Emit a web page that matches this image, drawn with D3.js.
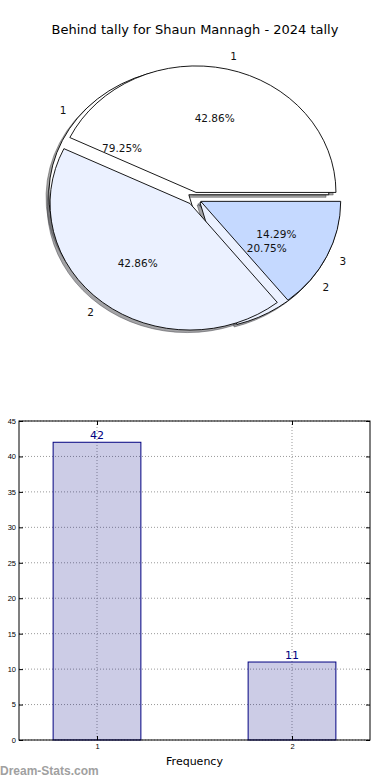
<!DOCTYPE html>
<html>
<head>
<meta charset="utf-8">
<script src="https://cdn.jsdelivr.net/npm/d3@7"></script>
<style>
  body { margin: 0; background: #fff; }
  svg { display: block; font-family: "DejaVu Sans", sans-serif; }
</style>
</head>
<body>
<div id="chart"></div>
<script>
// values
const title = "Behind tally for Shaun Mannagh - 2024 tally";
const innerLabels = ["1", "2"];
const innerValues = [79.25, 20.75];
const outerLabels = ["1", "2", "3"];
const outerValues = [42.86, 42.86, 14.29];
const sliceColors = ["#ffffff", "#ebf1ff", "#c5d9ff"];

const barCats = [1, 2];
const barValues = [42, 11];
const yTicks = [0, 5, 10, 15, 20, 25, 30, 35, 40, 45];

const W = 390, H = 780;
const svg = d3.select("#chart").append("svg")
    .attr("width", W).attr("height", H);

svg.append("text")
    .attr("x", 195).attr("y", 34)
    .attr("text-anchor", "middle")
    .style("font-size", "13px")
    .text(title);

// ---- pie (elliptical, matplotlib style) ----
const cx = 194.4, cy = 198.6, rx = 140, ry = 126.5;
const R = 100;
const explode = 0.05;

const pie = d3.pie().sort(null)
    .startAngle(Math.PI / 2)
    .endAngle(Math.PI / 2 - 2 * Math.PI);
const arc = d3.arc().innerRadius(0).outerRadius(R);

function layout(values, labels) {
  const total = d3.sum(values);
  return pie(values).map((d, i) => {
    const m = (d.startAngle + d.endAngle) / 2;
    const ux = Math.sin(m), uy = -Math.cos(m);
    return {
      arc: d, i: i, label: labels[i],
      pct: (d.value / total * 100).toFixed(2) + "%",
      ux: ux, uy: uy,
      ox: cx + explode * rx * ux,
      oy: cy + explode * ry * uy
    };
  });
}

const inner = layout(innerValues, innerLabels);
const outer = layout(outerValues, outerLabels);

const pieG = svg.append("g");

function shade(c) {
  const k = d3.rgb(c);
  return d3.rgb(k.r * 0.3, k.g * 0.3, k.b * 0.3);
}

// shadows of both pies go under every wedge
[inner, outer].forEach(set => {
  pieG.append("g").selectAll("path")
    .data(set)
    .join("path")
      .attr("d", d => arc(d.arc))
      .attr("transform", d => `translate(${d.ox - 0.02 * rx},${d.oy + 0.02 * ry}) scale(${rx / R},${ry / R})`)
      .attr("fill", d => shade(sliceColors[d.i]))
      .attr("fill-opacity", 0.5)
      .attr("stroke", d => shade(sliceColors[d.i]))
      .attr("stroke-opacity", 0.5)
      .attr("stroke-width", 1)
      .attr("vector-effect", "non-scaling-stroke");
});

[inner, outer].forEach(set => {
  pieG.append("g").selectAll("path")
    .data(set)
    .join("path")
      .attr("d", d => arc(d.arc))
      .attr("transform", d => `translate(${d.ox},${d.oy}) scale(${rx / R},${ry / R})`)
      .attr("fill", d => sliceColors[d.i])
      .attr("stroke", "#000")
      .attr("stroke-width", 0.9)
      .attr("vector-effect", "non-scaling-stroke");
});

[inner, outer].forEach(set => {
  const t = pieG.append("g").style("font-size", "10.5px").attr("fill", "#111");
  t.selectAll("text.lab")
    .data(set)
    .join("text")
      .attr("class", "lab")
      .attr("x", d => d.ox + 1.1 * rx * d.ux)
      .attr("y", d => d.oy + 1.1 * ry * d.uy)
      .attr("dy", "0.35em")
      .attr("text-anchor", d => d.ux > 0 ? "start" : "end")
      .text(d => d.label);
  t.selectAll("text.pct")
    .data(set)
    .join("text")
      .attr("class", "pct")
      .attr("x", d => d.ox + 0.6 * rx * d.ux)
      .attr("y", d => d.oy + 0.6 * ry * d.uy)
      .attr("dy", "0.35em")
      .attr("text-anchor", "middle")
      .text(d => d.pct);
});

// ---- bar chart ----
const plotL = 19, plotR = 370, plotT = 421, plotB = 740;
const x = d3.scaleLinear().domain([0.6, 2.4]).range([plotL, plotR]);
const y = d3.scaleLinear().domain([0, 45]).range([plotB, plotT]);
const barW = 0.45;

const grid = svg.append("g")
    .attr("stroke", "#999")
    .attr("stroke-width", 1)
    .attr("stroke-dasharray", "1,2");
grid.selectAll("line.h")
  .data(yTicks)
  .join("line")
    .attr("class", "h")
    .attr("x1", plotL).attr("x2", plotR)
    .attr("y1", d => y(d)).attr("y2", d => y(d));
grid.selectAll("line.v")
  .data(barCats)
  .join("line")
    .attr("class", "v")
    .attr("x1", d => x(d)).attr("x2", d => x(d))
    .attr("y1", plotT).attr("y2", plotB);

svg.append("g").selectAll("rect")
  .data(barValues)
  .join("rect")
    .attr("x", (d, i) => x(barCats[i] - barW / 2))
    .attr("y", d => y(d))
    .attr("width", (d, i) => x(barCats[i] + barW / 2) - x(barCats[i] - barW / 2))
    .attr("height", d => y(0) - y(d))
    .attr("fill", "#000080")
    .attr("fill-opacity", 0.2)
    .attr("stroke", "#000080")
    .attr("stroke-width", 1);

svg.append("g").selectAll("text")
  .data(barValues)
  .join("text")
    .attr("x", (d, i) => x(barCats[i]))
    .attr("y", d => y(d) - 3)
    .attr("text-anchor", "middle")
    .attr("fill", "#000080")
    .style("font-size", "11px")
    .text(d => d);

function styleAxis(g) {
  g.select(".domain").remove();
  g.selectAll(".tick line").attr("stroke", "#000");
  g.selectAll(".tick text").style("font-size", "7.5px").attr("fill", "#000");
}

svg.append("g")
    .attr("transform", `translate(${plotL},0)`)
    .call(d3.axisLeft(y).tickValues(yTicks).tickSize(-4).tickPadding(3))
    .call(styleAxis);
svg.append("g")
    .attr("transform", `translate(${plotR},0)`)
    .call(d3.axisRight(y).tickValues(yTicks).tickSize(-4).tickFormat(""))
    .call(styleAxis);
svg.append("g")
    .attr("transform", `translate(0,${plotB})`)
    .call(d3.axisBottom(x).tickValues(barCats).tickSize(-4).tickPadding(4).tickFormat(d3.format("d")))
    .call(styleAxis);
svg.append("g")
    .attr("transform", `translate(0,${plotT})`)
    .call(d3.axisTop(x).tickValues(barCats).tickSize(-4).tickFormat(""))
    .call(styleAxis);

svg.append("rect")
    .attr("x", plotL).attr("y", plotT)
    .attr("width", plotR - plotL).attr("height", plotB - plotT)
    .attr("fill", "none")
    .attr("stroke", "#000")
    .attr("stroke-width", 1);

svg.append("text")
    .attr("x", (plotL + plotR) / 2).attr("y", 765)
    .attr("text-anchor", "middle")
    .style("font-size", "11px")
    .text("Frequency");

svg.append("text")
    .attr("x", 0).attr("y", 775)
    .style("font-family", "'Liberation Sans', Arial, sans-serif")
    .style("font-size", "12px")
    .style("font-weight", "bold")
    .attr("fill", "#a0a0a0")
    .text("Dream-Stats.com");
</script>
</body>
</html>
